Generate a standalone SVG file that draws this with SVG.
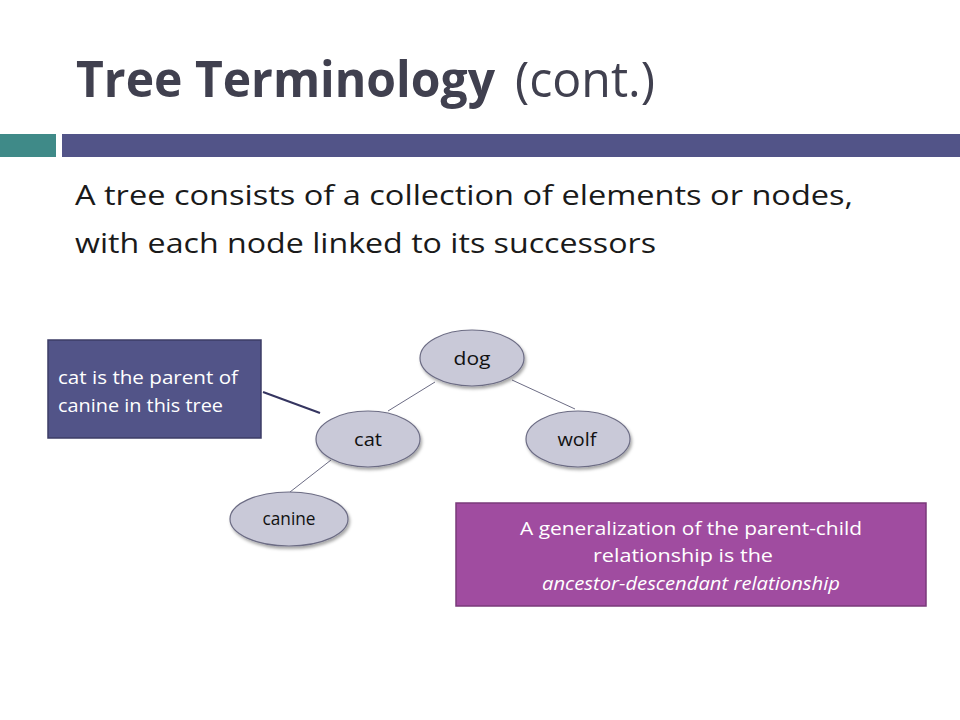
<svg xmlns="http://www.w3.org/2000/svg" width="960" height="720" viewBox="0 0 960 720">
<defs>
<style>
.title{font-family:"Open Sans","Liberation Sans",sans-serif;fill:#40404f;font-size:50px}
.body{font-family:"Open Sans","Liberation Sans",sans-serif;font-size:28px;fill:#1a1a1a}
.node ellipse{fill:#c9c9d8;stroke:#6c6c84;stroke-width:1.2}
.node text{font-family:"Open Sans","Liberation Sans",sans-serif;font-size:18px;fill:#111;text-anchor:middle}
.edge{stroke:#6c6c84;stroke-width:1}
.note{font-family:"Open Sans","Liberation Sans",sans-serif;font-size:18px;fill:#fff}
</style>
<filter id="sh" x="-20%" y="-20%" width="150%" height="160%">
<feDropShadow dx="1.5" dy="2.5" stdDeviation="1.5" flood-color="#000" flood-opacity="0.35"/>
</filter>
</defs>
<rect width="960" height="720" fill="#fff"/>
<text class="title" x="76" y="97" font-weight="bold" textLength="419" lengthAdjust="spacingAndGlyphs">Tree Terminology</text>
<text class="title" x="515" y="97" textLength="140" lengthAdjust="spacingAndGlyphs">(cont.)</text>
<rect x="0" y="134" width="56" height="23" fill="#3f8a88"/>
<rect x="62" y="134" width="898" height="23" fill="#525488"/>
<text class="body" x="75" y="205" textLength="778" lengthAdjust="spacingAndGlyphs">A tree consists of a collection of elements or nodes,</text>
<text class="body" x="75" y="253" textLength="581" lengthAdjust="spacingAndGlyphs">with each node linked to its successors</text>
<g id="connectors">
<line class="edge" x1="435" y1="382" x2="388" y2="411"/>
<line class="edge" x1="512" y1="380" x2="575" y2="409"/>
<line class="edge" x1="331" y1="460" x2="290" y2="492"/>
<line x1="263" y1="392" x2="320" y2="413" stroke="#353560" stroke-width="2"/>
</g>
<g id="dog" class="node"><ellipse cx="472" cy="358" rx="52" ry="28" filter="url(#sh)"/><text x="472" y="365" textLength="37" lengthAdjust="spacingAndGlyphs">dog</text></g>
<g id="cat" class="node"><ellipse cx="368" cy="439" rx="52" ry="28" filter="url(#sh)"/><text x="368" y="446" textLength="28" lengthAdjust="spacingAndGlyphs">cat</text></g>
<g id="wolf" class="node"><ellipse cx="578" cy="439" rx="52" ry="28" filter="url(#sh)"/><text x="577" y="446" textLength="39" lengthAdjust="spacingAndGlyphs">wolf</text></g>
<g id="canine" class="node"><ellipse cx="289" cy="519" rx="59" ry="27" filter="url(#sh)"/><text x="289" y="525" font-size="16" textLength="53" lengthAdjust="spacingAndGlyphs">canine</text></g>
<g id="note-parent">
<rect x="48" y="340" width="213" height="98" fill="#525488" stroke="#3c3c66" stroke-width="1.5"/>
<text class="note" x="58" y="384" textLength="180" lengthAdjust="spacingAndGlyphs">cat is the parent of</text>
<text class="note" x="58" y="412" textLength="165" lengthAdjust="spacingAndGlyphs">canine in this tree</text>
</g>
<g id="note-ancestor">
<rect x="456" y="503" width="470" height="103" fill="#a04ca0" stroke="#7a3a7a" stroke-width="1.5"/>
<text class="note" x="520" y="535" textLength="342" lengthAdjust="spacingAndGlyphs">A generalization of the parent-child</text>
<text class="note" x="593" y="562" textLength="180" lengthAdjust="spacingAndGlyphs">relationship is the</text>
<text class="note" x="542" y="590" font-style="italic" textLength="298" lengthAdjust="spacingAndGlyphs">ancestor-descendant relationship</text>
</g>
</svg>
